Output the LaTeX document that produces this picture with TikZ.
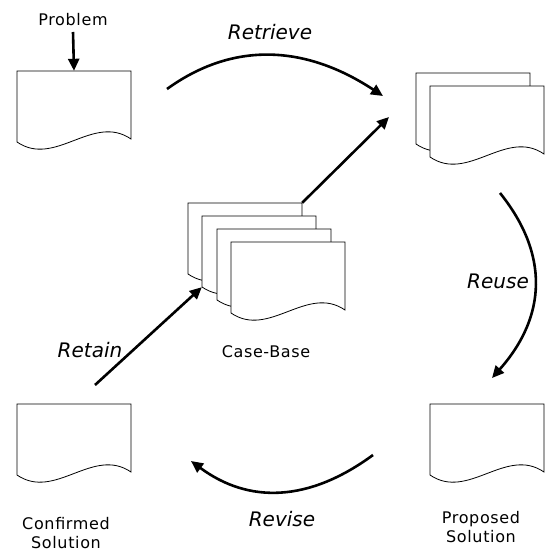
\documentclass[tikz,border=0pt]{standalone}
\usepackage{fontspec}
\setmainfont{DejaVu Sans}
\usetikzlibrary{arrows.meta}
\tikzset{
  docline/.style={draw=black, line width=0.8pt, fill=white},
  docbox/.style={draw=none, inner sep=0pt, minimum width=114pt, minimum height=71pt},
  flow/.style={line width=2.6pt, -{Triangle[length=12pt,width=11pt]}},
  smalllabel/.style={font=\fontsize{16}{19}\selectfont\addfontfeatures{LetterSpace=4}, align=center, inner sep=0pt},
  steplabel/.style={font=\fontsize{20}{22}\selectfont\itshape, inner sep=0pt}
}
\newcommand\cbrdoc[3]{%
  \begin{scope}[shift={(#1,#2)}]
    \draw[docline] (0,0) -- (114,0) -- (114,68) .. controls (76,42) and (38,97) .. (0,71) -- cycle;
    \node[docbox] (#3) at (57,35.5) {};
  \end{scope}}
\begin{document}
\begin{tikzpicture}[x=1pt,y=-1pt]
\useasboundingbox (0,0) rectangle (546,551);
% documents
\cbrdoc{17}{71}{prob}
\cbrdoc{416}{73}{retb}
\cbrdoc{430}{86}{retf}
\cbrdoc{188}{203}{cba}
\cbrdoc{202}{216}{cbb}
\cbrdoc{217}{229}{cbc}
\cbrdoc{231}{242}{cbd}
\cbrdoc{17}{404}{conf}
\cbrdoc{430}{404}{prop}
% texts
\node[smalllabel] (ptxt) at (73,20) {Problem};
\node[smalllabel] (cbtxt) at (266,352) {Case-Base};
\node[smalllabel] (conftxt) at (66,533) {Confirmed\\Solution};
\node[smalllabel] (proptxt) at (481,527) {Proposed\\Solution};
\node[steplabel] (lretrieve) at (270,32) {Retrieve};
\node[steplabel] (lreuse) at (498,281) {Reuse};
\node[steplabel] (lrevise) at (282,519) {Revise};
\node[steplabel] (lretain) at (90,350) {Retain};
% coordinates for free ends
\coordinate (pstart) at (73,32);
\coordinate (rtA) at (167,89);
\coordinate (rtB) at (383,96);
\coordinate (ruA) at (500,193);
\coordinate (ruB) at (492,378);
\coordinate (rvA) at (373,455);
\coordinate (rvB) at (191,461);
\coordinate (rnA) at (95,385);
\coordinate (cbout) at (389,117);
% connectors
\draw[flow] (pstart) -- (prob.north);
\draw[flow] (rtA) .. controls (232,42) and (304,44) .. (rtB);
\draw[flow] (ruA) .. controls (549,254) and (547,316) .. (ruB);
\draw[flow] (rvA) .. controls (309,502) and (249,504) .. (rvB);
\draw[flow] (rnA) -- (cbb.south west);
\draw[flow] (cba.north east) -- (cbout);
\end{tikzpicture}
\end{document}
